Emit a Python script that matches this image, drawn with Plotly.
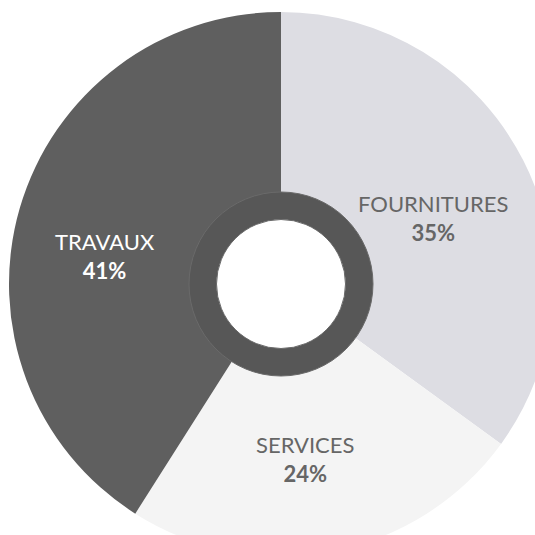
import plotly.graph_objects as go

categories = ["FOURNITURES", "SERVICES", "TRAVAUX"]
values = [35, 24, 41]
slice_colors = ["#dddde3", "#f4f4f4", "#5f5f5f"]
label_colors = ["#666666", "#666666", "#ffffff"]

cx, cy, R = 281, 284, 272
W, H = cx + R, cy + R
ring_r, hole_r = 92, 64.5

def dom(r):
    return dict(x=[(cx - r) / W, min(1, (cx + r) / W)],
                y=[max(0, 1 - (cy + r) / H), 1 - (cy - r) / H])

fig = go.Figure()
fig.add_trace(go.Pie(
    labels=categories, values=values, sort=False, direction="clockwise", rotation=0,
    marker=dict(colors=slice_colors, line=dict(width=0)),
    hole=(hole_r + 2) / R, textinfo="none", showlegend=False, domain=dom(R),
    hoverinfo="label+percent"))
fig.add_trace(go.Pie(
    labels=["ring"], values=[1], sort=False,
    marker=dict(colors=["#575757"], line=dict(width=1, color="#6a6a6a")),
    hole=hole_r / ring_r, textinfo="none", showlegend=False, domain=dom(ring_r),
    hoverinfo="skip"))

label_pos = {"FOURNITURES": (433, 218), "SERVICES": (305, 459), "TRAVAUX": (105, 256)}
for cat, val, col in zip(categories, values, label_colors):
    px, py = label_pos[cat]
    fig.add_annotation(
        x=px / W, y=1 - py / H, xref="paper", yref="paper", showarrow=False,
        xanchor="center", yanchor="middle",
        text=f"{cat}<br><b>{val}%</b>", align="center",
        font=dict(family="Lato", size=22, color=col))

fig.update_layout(width=W, height=H, margin=dict(l=0, r=0, t=0, b=0),
                  paper_bgcolor="white", plot_bgcolor="white")
fig.write_html("out.html")
